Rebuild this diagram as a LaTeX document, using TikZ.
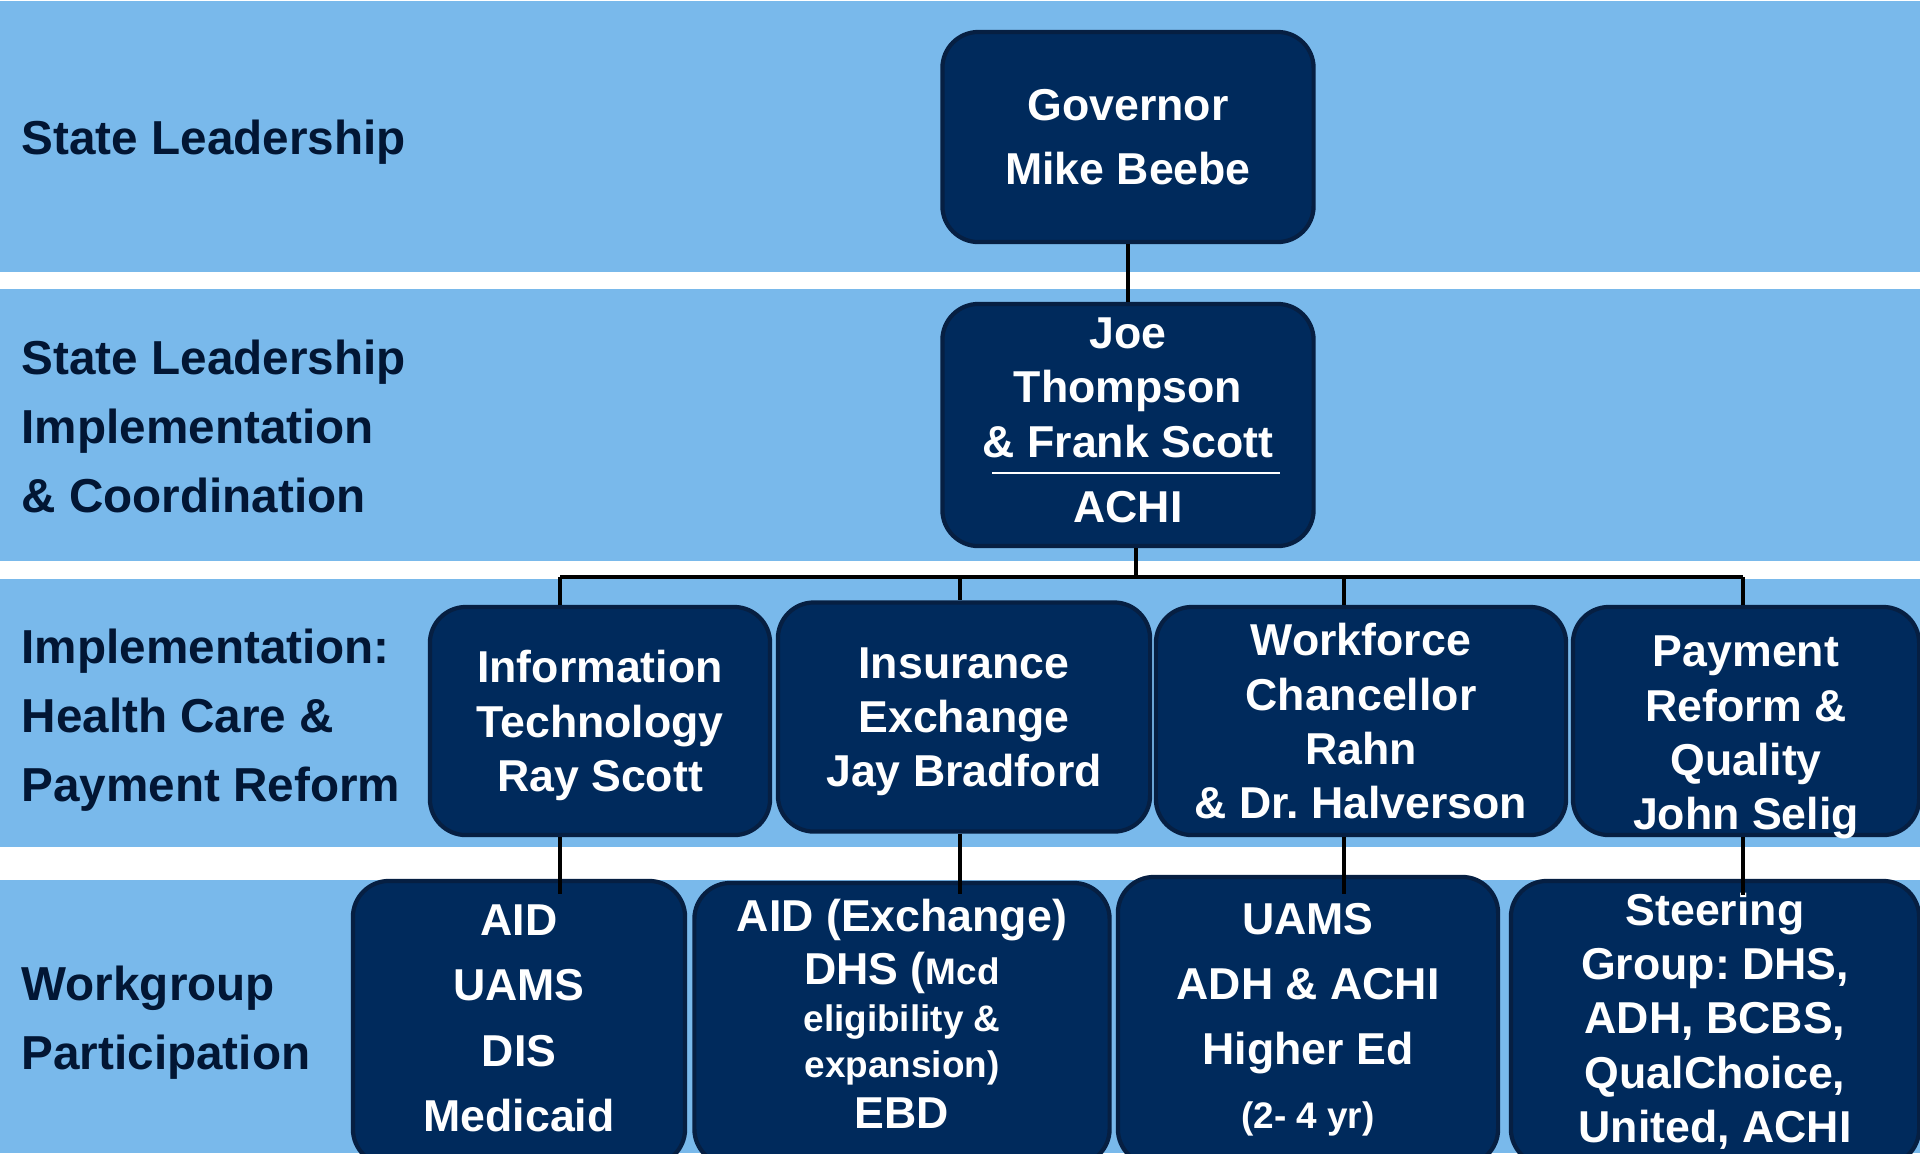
\documentclass[tikz,border=0pt]{standalone}
\usepackage{fontspec}
\setmainfont{Liberation Sans}
\usepackage{tikz}
\definecolor{bandblue}{RGB}{121,185,235}
\definecolor{boxnavy}{RGB}{0,42,92}
\definecolor{boxedge}{RGB}{6,31,66}
\definecolor{labelnavy}{RGB}{2,22,52}
\tikzstyle{band} = [fill=bandblue, draw=none]
\tikzstyle{tier} = [anchor=west, inner sep=0pt, align=left, text=labelnavy,
    text depth=0pt, font=\bfseries\fontsize{13.55}{19.6}\selectfont]
\tikzstyle{unit} = [draw=boxedge, line width=1.2pt, fill=boxnavy,
    rounded corners=0.36cm, text=white, align=center, inner sep=0pt,
    text depth=0pt, font=\bfseries\fontsize{12.7}{15.45}\selectfont]
\tikzstyle{link} = [draw, black, line width=1.2pt]
\newcommand{\smtxt}[1]{{\fontsize{10.5}{12}\selectfont #1}}
\frenchspacing

\begin{document}
\begin{tikzpicture}[x=0.01cm, y=-0.01cm]
    \useasboundingbox (0,0) rectangle (1920,1153);
    \fill [white] (0,0) rectangle (1920,1153);
    \path [band] (0,1) rectangle (1920,272);
    \path [band] (0,289) rectangle (1920,561);
    \path [band] (0,579) rectangle (1920,847);
    \path [band] (0,880) rectangle (1920,1153);

    \node [tier] (lead) at (21,137) {State Leadership};
    \node [tier] (coord) at (21,426) {State Leadership\\Implementation\\\& Coordination};
    \node [tier] (impl) at (21,715) {Implementation:\\Health Care \&\\Payment Reform};
    \node [tier] (work) at (21,1018) {Workgroup\\Participation};

    \node [unit, minimum width=3.71cm, minimum height=2.1cm,
        font=\bfseries\fontsize{12.7}{18.4}\selectfont] (gov) at (1128,137) {Governor\\Mike Beebe};
    \node [unit, minimum width=3.71cm, minimum height=2.42cm, text depth=2.8pt] (achi) at (1128,425)
        {Joe\\Thompson\\\& Frank Scott\\[3.2pt]ACHI};
    \draw [white, line width=0.8pt] (992,473) -- (1280,473);

    \node [unit, minimum width=3.40cm, minimum height=2.28cm] (it) at (600,721) {Information\\Technology\\Ray Scott};
    \node [unit, minimum width=3.72cm, minimum height=2.29cm] (ins) at (964,717) {Insurance\\Exchange\\Jay Bradford};
    \node [unit, minimum width=4.10cm, minimum height=2.28cm] (wf) at (1361,721)
        {Workforce\\Chancellor\\Rahn\\\& Dr. Halverson};
    \node [unit, minimum width=3.46cm, minimum height=2.28cm] (pay) at (1746,721)
        {\rule{0pt}{15.5pt}Payment\\Reform \&\\Quality\\John Selig};

    \node [unit, minimum width=3.32cm, minimum height=2.84cm, text depth=2.8pt,
        font=\bfseries\fontsize{12.7}{18.6}\selectfont] (aid) at (519,1023) {AID\\UAMS\\DIS\\Medicaid};
    \node [unit, minimum width=4.15cm, minimum height=2.82cm, text depth=6pt] (exch) at (902,1024)
        {AID (Exchange)\\[-0.1pt]DHS (\smtxt{Mcd}\\[-2.1pt]\smtxt{eligibility \&}\\[-2.6pt]\smtxt{expansion)}\\[-0.9pt]EBD};
    \node [unit, minimum width=3.80cm, minimum height=2.88cm, text depth=2.8pt,
        font=\bfseries\fontsize{12.7}{18.4}\selectfont] (uams) at (1308,1021)
        {UAMS\\ADH \& ACHI\\Higher Ed\\\smtxt{(2- 4 yr)}};
    \node [unit, minimum width=4.08cm, minimum height=2.84cm, text depth=3.1pt] (steer) at (1715,1023)
        {Steering\\Group: DHS,\\ADH, BCBS,\\QualChoice,\\United, ACHI};

    \coordinate (hub) at (1136,577);
    \coordinate (d1) at (560,577);
    \coordinate (d2) at (960,577);
    \coordinate (d3) at (1344,577);
    \coordinate (d4) at (1743,577);

    \draw [link] (gov) -- (achi);
    \draw [link] (hub |- achi.south) -- (hub);
    \draw [link] (d1) -- (d4);
    \draw [link] (d1) -- (d1 |- it.north);
    \draw [link] (d2) -- (d2 |- ins.north);
    \draw [link] (d3) -- (d3 |- wf.north);
    \draw [link] (d4) -- (d4 |- pay.north);
    \draw [link] (d1 |- it.south) -- ([yshift=-0.15cm]d1 |- aid.north);
    \draw [link] (d2 |- ins.south) -- ([yshift=-0.13cm]d2 |- exch.north);
    \draw [link] (d3 |- wf.south) -- ([yshift=-0.19cm]d3 |- uams.north);
    \draw [link] (d4 |- pay.south) -- ([yshift=-0.16cm]d4 |- steer.north);
\end{tikzpicture}
\end{document}
